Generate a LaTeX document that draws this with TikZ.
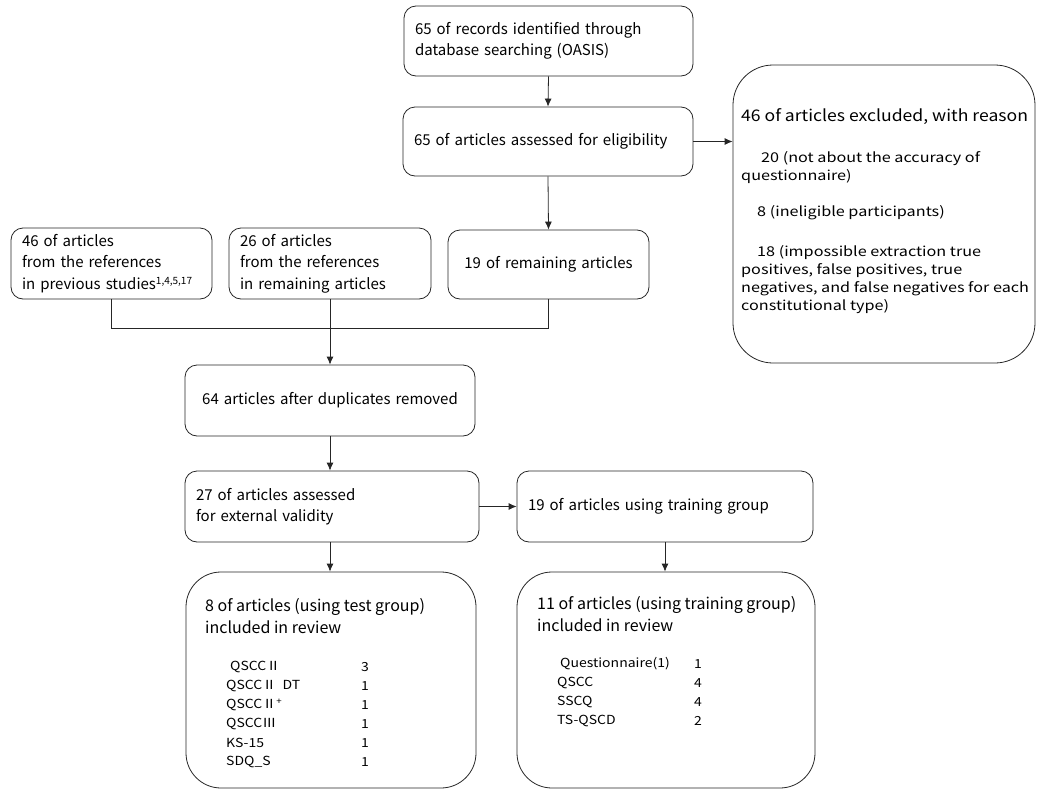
\documentclass[tikz,border=0pt]{standalone}
\usepackage{fontspec}
\newfontfamily\kr{Noto Sans CJK KR}
\newfontfamily\krw[FakeStretch=1.2]{Noto Sans CJK KR}
\newfontfamily\krm[FakeStretch=1.1]{Noto Sans CJK KR}
\newfontfamily\krl[FakeStretch=1.12]{Noto Sans CJK KR}
\usetikzlibrary{arrows.meta}
\tikzset{
  box/.style={draw=black!85, line width=0.8pt, rounded corners=12pt, inner xsep=11pt, inner ysep=0pt,
    font=\kr\fontsize{15}{21.5}\selectfont, align=left},
  bigbox/.style={draw=black!85, line width=0.8pt, rounded corners=40pt},
  txt/.style={anchor=west, inner sep=0pt, font=\kr\fontsize{16}{22}\selectfont, align=left},
  sub/.style={anchor=west, inner sep=0pt, font=\krw\fontsize{13.5}{18}\selectfont, align=left},
  lst/.style={anchor=west, inner sep=0pt, font=\krl\fontsize{12.5}{19}\selectfont},
  conn/.style={draw=black!85, line width=0.8pt},
  arr/.style={conn, -{Latex[length=8pt,width=7pt]}}
}
\begin{document}
\begin{tikzpicture}[x=1pt,y=-1pt]
\useasboundingbox (0,0) rectangle (1037,790);
% top boxes
\node[box, minimum height=70, text width=267] (bA) at (548.5,41) {65 of records identified through\\database searching (OASIS)};
\node[box, minimum height=69, text width=268] (bB) at (548,141.5) {65 of articles assessed for eligibility};
% excluded box
\node[bigbox, minimum width=302, minimum height=298] (bX) at (884,214) {};
\node[txt, font=\krm\fontsize{16}{22}\selectfont] (x1) at (741,117) {46 of articles excluded, with reason};
\node[sub] (x2) at (741,168) {\hspace*{20pt}20 (not about the accuracy of\\questionnaire)};
\node[sub] (x3) at (757,213) {8 (ineligible participants)};
\node[sub] (x4) at (741,280) {\hspace*{16pt}18 (impossible extraction true\\positives, false positives, true\\negatives, and false negatives for each\\constitutional type)};
% middle row
\node[box, minimum height=71, text width=179] (b46) at (111.5,263.5) {46 of articles\\from the references\\in previous studies\textsuperscript{\fontsize{10}{10}\selectfont 1,4,5,17}};
\node[box, minimum height=71, text width=180] (b26) at (330,263.5) {26 of articles\\from the references\\in remaining articles};
\node[box, minimum height=69, text width=179, align=center] (b19r) at (548.5,264.5) {19 of remaining articles};
\coordinate (j) at (330,328);
% lower boxes
\node[box, minimum height=71, text width=268, align=center] (b64) at (330,400.5) {64 articles after duplicates removed};
\node[box, minimum height=71, text width=272] (b27) at (332,506.5) {27 of articles assessed\\for external validity};
\node[box, minimum height=71, text width=274] (b19t) at (665,506.5) {19 of articles using training group};
% bottom big boxes
\node[bigbox, rounded corners=35pt, minimum width=290, minimum height=216] (b8) at (331,680) {};
\node[txt] (t8) at (205,616) {8 of articles (using test group)\\included in review};
\node[lst] (l81) at (230,667) {QSCCⅡ};
\node[lst] (l82) at (226,686) {QSCCⅡ\ \ DT};
\node[lst] (l83) at (226,705) {QSCCⅡ\textsuperscript{+}};
\node[lst] (l84) at (226,724) {QSCCⅢ};
\node[lst] (l85) at (226,743) {KS-15};
\node[lst] (l86) at (226,762) {SDQ\_S};
\node[lst] (n81) at (361,667) {3};
\node[lst] (n82) at (361,686) {1};
\node[lst] (n83) at (361,705) {1};
\node[lst] (n84) at (361,724) {1};
\node[lst] (n85) at (361,743) {1};
\node[lst] (n86) at (361,762) {1};
\node[bigbox, rounded corners=35pt, minimum width=298, minimum height=216] (b11) at (666,680) {};
\node[txt] (t11) at (537,614) {11 of articles (using training group)\\included in review};
\node[lst] (l111) at (560,664) {Questionnaire(1)};
\node[lst] (l112) at (557,683) {QSCC};
\node[lst] (l113) at (557,702) {SSCQ};
\node[lst] (l114) at (557,721) {TS-QSCD};
\node[lst] (n111) at (694,664) {1};
\node[lst] (n112) at (694,683) {4};
\node[lst] (n113) at (694,702) {4};
\node[lst] (n114) at (694,721) {2};
% connectors
\draw[arr] (bA.south) -- (bB.north);
\draw[arr] (bB.east) -- (bB.east -| bX.west);
\draw[arr] (bB.south) -- (b19r.north);
\draw[conn] (b46.south) |- (j);
\draw[conn] (b19r.south) |- (j);
\draw[conn] (b26.south) -- (j);
\draw[arr] (j) -- (b64.north);
\draw[arr] (b64.south) -- (b64.south |- b27.north);
\draw[arr] (b27.east) -- (b19t.west);
\draw[arr] (b27.south -| b64.south) -- (b64.south |- b8.north);
\draw[arr] (b19t.south) -- (b19t.south |- b11.north);
\end{tikzpicture}
\end{document}
